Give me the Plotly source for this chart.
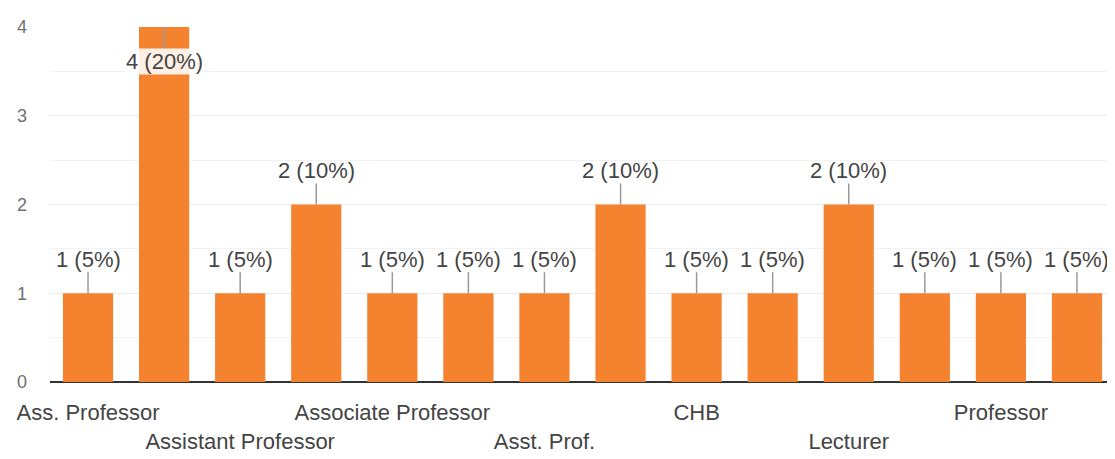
import plotly.graph_objects as go

categories = ["Ass. Professor", "Assistant Prof.", "Assistant Professor", "Assistant professor",
              "Associate Professor", "Associate professor", "Asst. Prof.", "Asst. Professor",
              "CHB", "HOD", "Lecturer", "Prof.", "Professor", "Professor & HOD"]
counts = [1, 4, 1, 2, 1, 1, 1, 2, 1, 1, 2, 1, 1, 1]
total = sum(counts)
shown_ticks = ["Ass. Professor", "Assistant Professor", "Associate Professor", "Asst. Prof.",
               "CHB", "Lecturer", "Professor"]
tick_row = [1, 2, 1, 2, 1, 2, 1]
y_ticks = [0, 1, 2, 3, 4]

ticktext = [t if r == 1 else "<br>" + t for t, r in zip(shown_ticks, tick_row)]

fig = go.Figure()
fig.add_trace(go.Bar(x=categories, y=counts, marker=dict(color="#F4822F", line=dict(width=0)),
                     hoverinfo="x+y"))

ymax = max(counts)
for c, v in zip(categories, counts):
    label = f"{v} ({round(100 * v / total)}%)"
    inside = v == ymax
    fig.add_annotation(x=c, y=v, text=label, showarrow=True, arrowhead=0, arrowwidth=1.5,
                       arrowcolor="#9a9a9a", ax=0, ay=34 if inside else -34,
                       font=dict(family="Liberation Sans, Arial", size=22, color="#444444"),
                       bgcolor="rgba(255,255,255,0.88)" if inside else None,
                       borderpad=0)

fig.update_layout(
    width=1107, height=451,
    margin=dict(l=42, r=0, t=19, b=77),
    plot_bgcolor="white", paper_bgcolor="white",
    bargap=0.34, showlegend=False,
    font=dict(family="Liberation Sans, Arial", color="#444444"),
    xaxis=dict(type="category", tickmode="array", tickvals=shown_ticks, ticktext=ticktext,
               tickangle=0, automargin=False,
               tickfont=dict(size=22, color="#444444"), ticklabelstandoff=15,
               showgrid=False, showline=False, ticks=""),
    yaxis=dict(range=[0, 4], tickmode="array", tickvals=y_ticks, automargin=False,
               tickfont=dict(size=18, color="#6f6f6f"), ticklabelstandoff=22,
               showgrid=True, gridcolor="#ececec", gridwidth=1,
               minor=dict(dtick=0.5, showgrid=True, gridcolor="#f2f2f2"),
               zeroline=True, zerolinecolor="#333333", zerolinewidth=2),
)

fig.write_html("out.html")
